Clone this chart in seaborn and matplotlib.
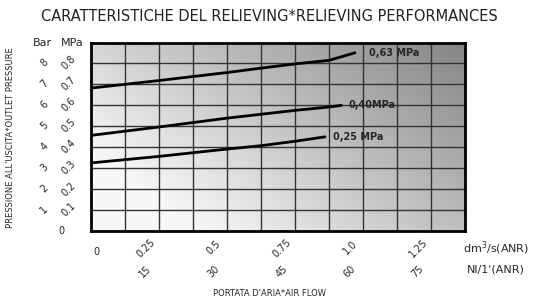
import numpy as np
import pandas as pd
import seaborn as sns
import matplotlib.pyplot as plt

# curves (flow dm3/s -> outlet pressure MPa)
flow_063 = [0.0, 0.25, 0.5, 0.625, 0.75, 0.875, 0.97]
pres_063 = [0.68, 0.716, 0.754, 0.775, 0.795, 0.812, 0.848]
flow_040 = [0.0, 0.25, 0.5, 0.75, 0.875, 0.92]
pres_040 = [0.455, 0.495, 0.537, 0.574, 0.59, 0.598]
flow_025 = [0.0, 0.25, 0.5, 0.625, 0.75, 0.86]
pres_025 = [0.324, 0.355, 0.39, 0.406, 0.427, 0.448]
curve_names = ["0,63 MPa", "0,40MPa", "0,25 MPa"]

x_ticks = [0, 0.25, 0.5, 0.75, 1.0, 1.25]
x_labels = ["0", "0.25", "0.5", "0.75", "1.0", "1.25"]
x_labels_nl = ["15", "30", "45", "60", "75"]
y_ticks = [0.1, 0.2, 0.3, 0.4, 0.5, 0.6, 0.7, 0.8]
y_labels_mpa = ["0.1", "0.2", "0.3", "0.4", "0.5", "0.6", "0.7", "0.8"]
y_labels_bar = ["1", "2", "3", "4", "5", "6", "7", "8"]

df = pd.concat([
    pd.DataFrame({"flow": flow_063, "pressure": pres_063, "curve": curve_names[0]}),
    pd.DataFrame({"flow": flow_040, "pressure": pres_040, "curve": curve_names[1]}),
    pd.DataFrame({"flow": flow_025, "pressure": pres_025, "curve": curve_names[2]}),
])

sns.set_style("white")
plt.rcParams["font.family"] = ["DejaVu Sans"]

fig = plt.figure(figsize=(5.39, 3.0), dpi=100)
ax = fig.add_axes([0.169, 0.23, 0.694, 0.627])
xmax, ymax = 1.375, 0.895

# shaded background, darker towards the top right
gx, gy = np.meshgrid(np.linspace(0, 1, 200), np.linspace(0, 1, 120))
shade = 0.97 - 0.45 * np.clip(0.7 * gx + 0.5 * gy - 0.2, 0, 1)
ax.imshow(shade, extent=[0, xmax, 0, ymax], origin="lower", cmap="gray",
          vmin=0, vmax=1, aspect="auto", zorder=0)

sns.lineplot(data=df, x="flow", y="pressure", units="curve", estimator=None,
             color="black", lw=2, sort=False, ax=ax, zorder=3)

for xv in np.arange(0.125, xmax, 0.125):
    ax.axvline(xv, color="#333333", lw=1, zorder=1)
for yv in y_ticks:
    ax.axhline(yv, color="#333333", lw=1, zorder=1)

ax.text(1.02, pres_063[-1], curve_names[0], fontsize=7, fontweight="bold", va="center")
ax.text(0.945, pres_040[-1], curve_names[1], fontsize=7, fontweight="bold", va="center")
ax.text(0.89, pres_025[-1], curve_names[2], fontsize=7, fontweight="bold", va="center")

ax.set_xlim(0, xmax)
ax.set_ylim(0, ymax)
for s in ax.spines.values():
    s.set_linewidth(2)
    s.set_color("black")

ax.set_xticks(x_ticks)
ax.set_xticklabels([])
ax.set_yticks(y_ticks)
ax.set_yticklabels(y_labels_mpa, rotation=45, ha="right", va="center", fontsize=7)
ax.tick_params(axis="both", length=6, width=1, color="black", pad=4)
ax.set_xlabel("")
ax.set_ylabel("")

tx = ax.get_xaxis_transform()
ax.text(0.02, -0.11, x_labels[0], transform=tx, fontsize=7, ha="center", va="center")
for xv, lab in zip(x_ticks[1:], x_labels[1:]):
    ax.text(xv - 0.048, -0.09, lab, transform=tx, rotation=45, fontsize=7,
            ha="center", va="center")
for xv, lab in zip(x_ticks[1:], x_labels_nl):
    ax.text(xv - 0.05, -0.215, lab, transform=tx, rotation=45, fontsize=7,
            ha="center", va="center")

ty = ax.get_yaxis_transform()
for yv, lab in zip(y_ticks, y_labels_bar):
    ax.text(-0.125, yv, lab, transform=ty, rotation=45, fontsize=7,
            ha="center", va="center")
ax.text(-0.08, 0.0, "0", transform=ty, fontsize=7, ha="center", va="center")
ax.text(-0.13, 1.0, "Bar", transform=ax.transAxes, fontsize=8, ha="center", va="center")
ax.text(-0.05, 1.0, "MPa", transform=ax.transAxes, fontsize=8, ha="center", va="center")

fig.text(0.92, 0.173, "dm$^3$/s(ANR)", fontsize=8, ha="center", va="center")
fig.text(0.92, 0.1, "Nl/1'(ANR)", fontsize=8, ha="center", va="center")
fig.text(0.5, 0.02, "PORTATA D'ARIA*AIR FLOW", fontsize=6, ha="center", va="center")
fig.text(0.02, 0.54, "PRESSIONE ALL'USCITA*OUTLET PRESSURE", fontsize=6,
         rotation=90, ha="center", va="center")
fig.text(0.5, 0.945, "CARATTERISTICHE DEL RELIEVING*RELIEVING PERFORMANCES",
         fontsize=10.5, ha="center", va="center", color="#222222")

fig.savefig("out.png", dpi=100)
